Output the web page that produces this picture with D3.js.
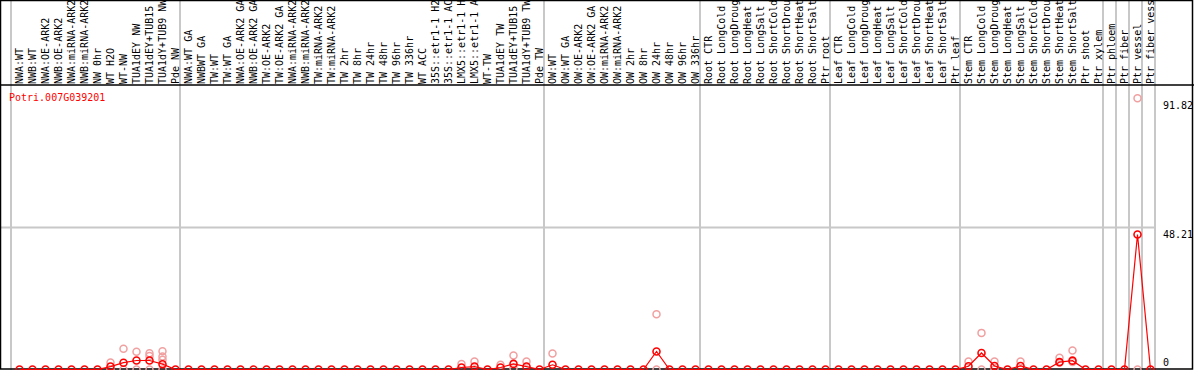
<!DOCTYPE html>
<html>
<head>
<meta charset="utf-8">
<script src="https://cdn.jsdelivr.net/npm/d3@7"></script>
<style>
  body { margin: 0; background: #fff; }
  svg { display: block; }
  text { font-family: "DejaVu Sans Mono", monospace; font-size: 10px; }
</style>
</head>
<body>
<svg id="chart"></svg>
<script>
var geneName = "Potri.007G039201";

var groupSizes = [13, 28, 12, 10, 10, 11, 1, 1, 1, 1];

var labels = [
  "NWA:WT", "NWB:WT", "NWA:OE-ARK2", "NWB:OE-ARK2", "NWA:miRNA-ARK2", "NWB:miRNA-ARK2",
  "NW 0hr", "WT H2O", "WT-NW", "TUA1dEY NW", "TUA1dEY+TUB15 NW", "TUA1dY+TUB9 NW", "Pde NW",
  "NWA:WT GA", "NWBWT GA", "TW:WT", "TW:WT GA", "NWA:OE-ARK2 GA", "NWB:OE-ARK2 GA",
  "TW:OE-ARK2", "TW:OE-ARK2 GA", "NWA:miRNA-ARK2 GA", "NWB:miRNA-ARK2 GA", "TW:miRNA-ARK2",
  "TW:miRNA-ARK2 GA", "TW 2hr", "TW 8hr", "TW 24hr", "TW 48hr", "TW 96hr", "TW 336hr", "WT ACC",
  "35S::etr1-1 H2O", "35S::etr1-1 ACC", "LMX5::etr1-1 H2O", "LMX5::etr1-1 ACC", "WT-TW",
  "TUA1dEY TW", "TUA1dEY+TUB15 TW", "TUA1dY+TUB9 TW", "Pde TW",
  "OW:WT", "OW:WT GA", "OW:OE-ARK2", "OW:OE-ARK2 GA", "OW:miRNA-ARK2", "OW:miRNA-ARK2 GA",
  "OW 2hr", "OW 8hr", "OW 24hr", "OW 48hr", "OW 96hr", "OW 336hr",
  "Root CTR", "Root LongCold", "Root LongDrought", "Root LongHeat", "Root LongSalt",
  "Root ShortCold", "Root ShortDrought", "Root ShortHeat", "Root ShortSalt", "Ptr root",
  "Leaf CTR", "Leaf LongCold", "Leaf LongDrought", "Leaf LongHeat", "Leaf LongSalt",
  "Leaf ShortCold", "Leaf ShortDrought", "Leaf ShortHeat", "Leaf ShortSalt", "Ptr leaf",
  "Stem CTR", "Stem LongCold", "Stem LongDrought", "Stem LongHeat", "Stem LongSalt",
  "Stem ShortCold", "Stem ShortDrought", "Stem ShortHeat", "Stem ShortSalt", "Ptr shoot", "Ptr xylem",
  "Ptr phloem", "Ptr fiber", "Ptr vessel", "Ptr fiber vessel"
];

var means = [
  0, 0, 0, 0, 0, 0, 0, 1.0, 2.3, 3.05, 3.05, 1.8, 0,
  0, 0, 0, 0, 0, 0, 0, 0, 0, 0, 0, 0, 0, 0, 0, 0, 0, 0, 0, 0, 0, 0.68, 1.0, 0, 0.68, 1.9, 1.0, 0,
  1.6, 0, 0, 0, 0, 0, 0, 0, 6.1, 0, 0, 0,
  0, 0, 0, 0, 0, 0, 0, 0, 0, 0,
  0, 0, 0, 0, 0, 0, 0, 0, 0, 0,
  1.1, 5.6, 1.2, 0, 1.2, 0, 0, 2.5, 3.0, 0, 0,
  0, 0, 45.7, 0
];

var replicates = [
  [], [], [], [], [], [], [], [2.4, 0], [7.0, 0], [6.0, 0], [5.5, 4.6, 0], [6.2, 4.4, 3.3, 0], [],
  [], [], [], [], [], [], [], [], [], [], [], [], [], [], [], [], [], [], [], [], [],
  [1.9], [2.7], [], [1.6], [4.75, 0.5], [2.7], [],
  [5.4], [], [], [], [], [], [], [], [18.7, 0], [], [], [],
  [], [], [], [], [], [], [], [], [], [],
  [], [], [], [], [], [], [], [], [], [],
  [2.7], [12.4, 0], [2.7, 0], [], [2.7], [], [], [4.0, 2.4], [6.4, 2.5], [], [],
  [], [], [91.82, 0], []
];

var axisTicks = [0, 48.21, 91.82];

var width = 1194, height = 370;
var headerH = 85, plotRight = 1155;

var svg = d3.select("#chart")
    .attr("width", width)
    .attr("height", height);

var x = d3.scaleBand()
    .domain(labels)
    .range([11, plotRight]);

var y = d3.scaleLinear()
    .domain([0, 91.82])
    .range([369.5, 98.3]);

function cx(d) { return x(d) + 8.5; }

// group separators
var bounds = [0];
groupSizes.forEach(function(n) { bounds.push(bounds[bounds.length - 1] + n); });

svg.selectAll("line.sep")
  .data(bounds)
  .enter().append("line")
  .attr("class", "sep")
  .attr("x1", function(b) { return b < labels.length ? x(labels[b]) : plotRight; })
  .attr("x2", function(b) { return b < labels.length ? x(labels[b]) : plotRight; })
  .attr("y1", 0)
  .attr("y2", height)
  .attr("stroke", "#c8c8c8")
  .attr("stroke-width", 2);

// horizontal grid at middle tick
svg.append("line")
  .attr("x1", 0).attr("x2", plotRight)
  .attr("y1", Math.round(y(axisTicks[1])) + 0.5)
  .attr("y2", Math.round(y(axisTicks[1])) + 0.5)
  .attr("stroke", "#c8c8c8")
  .attr("stroke-width", 2);

// sample labels, rotated
svg.selectAll("text.lab")
  .data(labels)
  .enter().append("text")
  .attr("class", "lab")
  .attr("transform", function(d) { return "translate(" + (cx(d) + 3) + "," + (headerH - 1) + ") rotate(-90)"; })
  .attr("fill", "#000")
  .text(function(d) { return d; });

// frame
svg.append("rect")
  .attr("x", 0.5).attr("y", 0.5)
  .attr("width", width - 2).attr("height", height - 1.5)
  .attr("fill", "none")
  .attr("stroke", "#000")
  .attr("stroke-width", 1.5);

svg.append("line")
  .attr("x1", 0).attr("x2", width)
  .attr("y1", headerH).attr("y2", headerH)
  .attr("stroke", "#000")
  .attr("stroke-width", 1.5);

svg.append("text")
  .attr("x", 9)
  .attr("y", 101)
  .attr("fill", "#ff0000")
  .text(geneName);

svg.selectAll("text.tick")
  .data(axisTicks)
  .enter().append("text")
  .attr("class", "tick")
  .attr("x", 1163)
  .attr("y", function(d) { return Math.min(y(d) + 11, 366); })
  .attr("fill", "#000")
  .text(function(d) { return d === 0 ? "0" : d.toFixed(2); });

// replicate points
var reps = [];
labels.forEach(function(l, i) {
  replicates[i].forEach(function(v) { reps.push({label: l, value: v}); });
});

svg.selectAll("circle.rep")
  .data(reps)
  .enter().append("circle")
  .attr("class", "rep")
  .attr("cx", function(d) { return cx(d.label); })
  .attr("cy", function(d) { return y(d.value); })
  .attr("r", 3.5)
  .attr("fill", "none")
  .attr("stroke", "#f0a0a0")
  .attr("stroke-width", 1.5);

var line = d3.line()
    .x(function(d, i) { return cx(labels[i]); })
    .y(function(d) { return y(d); });

svg.append("path")
  .datum(means)
  .attr("d", line)
  .attr("fill", "none")
  .attr("stroke", "#ff0000")
  .attr("stroke-width", 1.2);

svg.selectAll("circle.mean")
  .data(means)
  .enter().append("circle")
  .attr("class", "mean")
  .attr("cx", function(d, i) { return cx(labels[i]); })
  .attr("cy", function(d) { return y(d); })
  .attr("r", 3.5)
  .attr("fill", "none")
  .attr("stroke", "#ff0000")
  .attr("stroke-width", 1.6);
</script>
</body>
</html>
